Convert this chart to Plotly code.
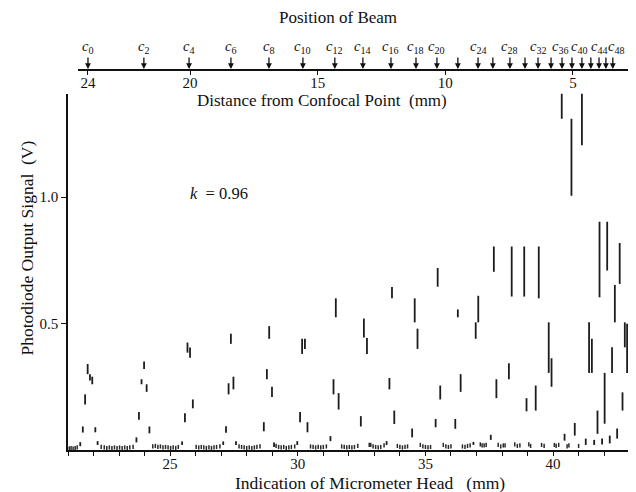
import plotly.graph_objects as go

# ---- data: vertical range marks (micrometer reading, low V, high V)
peak_x = [21.48, 21.58, 21.67, 21.77, 21.86, 21.95, 22.07, 22.16,
          23.68, 23.78, 23.88, 23.98, 24.08, 24.19,
          25.47, 25.58, 25.68, 25.78, 25.89,
          27.08, 27.19, 27.29, 27.38, 27.48, 27.58,
          28.67, 28.79, 28.88, 28.99, 29.07,
          29.98, 30.09, 30.17, 30.28, 30.38,
          31.28, 31.40, 31.49, 31.60,
          32.47, 32.59, 32.71,
          33.48, 33.59, 33.69, 33.78,
          34.48, 34.58, 34.69,
          35.40, 35.48, 35.58,
          36.17, 36.27, 36.38,
          36.88, 36.97, 37.07,
          37.56, 37.68, 37.78,
          38.27, 38.38,
          38.87, 38.96,
          39.32, 39.44, 39.83, 39.94,
          40.34, 40.45, 40.72, 40.85, 41.13, 41.28,
          41.41, 41.52, 41.61, 41.74, 41.82, 41.92, 42.02, 42.12, 42.22,
          42.31, 42.42, 42.51, 42.61, 42.72, 42.81, 42.90, 43.03]
peak_lo = [0.015, 0.069, 0.18, 0.30, 0.275, 0.26, 0.07, 0.02,
           0.03, 0.12, 0.26, 0.32, 0.23, 0.066,
           0.02, 0.11, 0.385, 0.365, 0.165,
           0.02, 0.068, 0.22, 0.42, 0.24, 0.02,
           0.074, 0.28, 0.44, 0.21, 0.012,
           0.02, 0.11, 0.38, 0.40, 0.07,
           0.035, 0.22, 0.525, 0.16,
           0.093, 0.445, 0.38,
           0.02, 0.24, 0.60, 0.103,
           0.05, 0.505, 0.40,
           0.09, 0.646, 0.20,
           0.084, 0.525, 0.23,
           0.02, 0.44, 0.505,
           0.04, 0.705, 0.205,
           0.28, 0.607,
           0.607, 0.153,
           0.156, 0.60, 0.305, 0.25,
           1.31, 0.037, 1.006, 0.057, 1.206, 0.02,
           0.305, 0.305, 0.02, 0.064, 0.604, 0.022, 0.104, 0.71, 0.026,
           0.305, 0.505, 0.045, 0.657, 0.156, 0.406, 0.305, 0.205]
peak_hi = [0.031, 0.093, 0.22, 0.34, 0.30, 0.29, 0.09, 0.035,
           0.05, 0.15, 0.28, 0.35, 0.26, 0.093,
           0.034, 0.145, 0.425, 0.405, 0.20,
           0.034, 0.094, 0.264, 0.46, 0.29, 0.035,
           0.11, 0.32, 0.49, 0.25, 0.03,
           0.035, 0.15, 0.44, 0.44, 0.11,
           0.055, 0.28, 0.60, 0.225,
           0.134, 0.52, 0.443,
           0.035, 0.285, 0.645, 0.156,
           0.085, 0.60, 0.48,
           0.123, 0.72, 0.255,
           0.123, 0.556, 0.30,
           0.032, 0.505, 0.61,
           0.06, 0.805, 0.28,
           0.343, 0.805,
           0.805, 0.205,
           0.255, 0.805, 0.505, 0.363,
           1.41, 0.064, 1.31, 0.107, 1.41, 0.045,
           0.505, 0.44, 0.04, 0.156, 0.903, 0.045, 0.305, 0.903, 0.057,
           0.406, 0.653, 0.085, 0.819, 0.228, 0.505, 0.499, 0.406]

# ---- data: baseline readings between the peaks (micrometer reading, V)
base_x = [21.05, 21.12, 21.20, 21.28, 21.36,
          22.30, 22.42, 22.52, 22.62, 22.72, 22.82, 22.92, 23.02, 23.12, 23.22, 23.32, 23.42, 23.55,
          24.32, 24.42, 24.52, 24.62, 24.72, 24.82, 24.92, 25.02, 25.12, 25.22, 25.32,
          26.02, 26.12, 26.22, 26.32, 26.42, 26.52, 26.62, 26.72, 26.82, 26.95,
          27.70, 27.80, 27.90, 28.00, 28.10, 28.20, 28.30, 28.40, 28.52,
          29.15, 29.25, 29.35, 29.45, 29.55, 29.65, 29.75, 29.88,
          30.50, 30.60, 30.70, 30.80, 30.90, 31.00, 31.12,
          31.72, 31.82, 31.92, 32.02, 32.12, 32.22, 32.35,
          32.80, 32.86, 32.95, 33.05, 33.15, 33.25, 33.38,
          33.90, 34.00, 34.10, 34.20, 34.30,
          34.80, 34.90, 35.00, 35.10, 35.20,
          35.70, 35.80, 35.90, 36.00,
          36.45, 36.55, 36.65, 36.75,
          37.15, 37.22, 37.30, 37.38,
          37.85, 37.95, 38.05, 38.12,
          38.50, 38.60, 38.70,
          39.05, 39.12,
          39.55, 39.65, 40.05, 40.12, 40.22, 40.55, 40.62, 41.00]
base_v = [0.006, 0.008, 0.006, 0.008, 0.010,
          0.012, 0.010, 0.008, 0.010, 0.008, 0.010, 0.008, 0.010, 0.008, 0.010, 0.008, 0.010, 0.012,
          0.014, 0.016, 0.012, 0.014, 0.010, 0.012, 0.010, 0.008, 0.010, 0.008, 0.012,
          0.012, 0.010, 0.012, 0.010, 0.008, 0.010, 0.008, 0.010, 0.012, 0.014,
          0.014, 0.012, 0.010, 0.008, 0.010, 0.008, 0.010, 0.012, 0.014,
          0.016, 0.012, 0.010, 0.012, 0.008, 0.010, 0.012, 0.014,
          0.014, 0.012, 0.010, 0.012, 0.010, 0.012, 0.014,
          0.014, 0.012, 0.010, 0.012, 0.010, 0.012, 0.016,
          0.020, 0.020, 0.014, 0.012, 0.010, 0.012, 0.018,
          0.016, 0.012, 0.010, 0.012, 0.014,
          0.020, 0.014, 0.012, 0.010, 0.012,
          0.020, 0.014, 0.012, 0.014,
          0.014, 0.012, 0.016, 0.018,
          0.022, 0.018, 0.018, 0.020,
          0.020, 0.014, 0.018, 0.018,
          0.022, 0.016, 0.018,
          0.022, 0.016,
          0.020, 0.016, 0.020, 0.016, 0.020, 0.014, 0.018, 0.016]

# ---- data: beam positions (distance from confocal point, mm)
beam_d = [24.0, 21.81, 20.04, 18.40, 16.91, 15.58, 14.33, 13.23, 12.13, 11.15,
          10.33, 9.51, 8.72, 8.14, 7.47, 6.88, 6.37, 5.86, 5.43, 5.04,
          4.65, 4.30, 3.98, 3.71, 3.44]
beam_label = ["0", "2", "4", "6", "8", "10", "12", "14", "16", "18",
              "20", "", "24", "", "28", "", "32", "", "36", "",
              "40", "", "44", "", "48"]

x_ticks = [25, 30, 35, 40]
y_ticks = [0.5, 1.0]
y_ticktext = ["0.5", "1.0"]
top_ticks = [24, 20, 15, 10, 5]
k_text = "0.96"

FONT = "Liberation Serif"
INK = "#111111"

# small horizontal nudges (px) for the crowded labels near the confocal point
LABEL_NUDGE = {"36": -2, "40": -2, "44": 0, "48": 4}

seg_x, seg_y = [], []
for xv, lo, hi in zip(peak_x, peak_lo, peak_hi):
    seg_x += [xv, xv, None]
    seg_y += [lo, hi, None]

fig = go.Figure()
fig.add_trace(go.Scatter(x=seg_x, y=seg_y, mode="lines",
                         line=dict(color="#1c1c1c", width=1.8),
                         hoverinfo="skip", showlegend=False))
fig.add_trace(go.Scatter(x=base_x, y=base_v, mode="markers",
                         marker=dict(symbol="line-ns", size=3,
                                     line=dict(width=1.5, color="#2a2a2a")),
                         hoverinfo="skip", showlegend=False))
# invisible trace carrying the top (distance) axis
fig.add_trace(go.Scatter(x=[top_ticks[0]], y=[None], xaxis="x2", yaxis="y",
                         mode="markers", showlegend=False, hoverinfo="skip"))

axis_font = dict(family=FONT, size=15, color=INK)

fig.update_layout(
    width=628, height=484,
    margin=dict(l=60, r=2, t=62, b=42),
    paper_bgcolor="white", plot_bgcolor="rgba(0,0,0,0)",
    font=dict(family=FONT, color=INK),
    xaxis=dict(range=[21, 43.17], domain=[0, 1], automargin=False,
               tickvals=x_ticks, ticks="outside", ticklen=4, tickwidth=1.2,
               ticklabelstandoff=-5,
               tickcolor=INK, showline=True, linecolor=INK, linewidth=1.5,
               showgrid=False, zeroline=False, tickfont=axis_font,
               minor=dict(dtick=1, tick0=0, ticks="outside", ticklen=4,
                          tickwidth=1.2, tickcolor=INK, showgrid=False)),
    yaxis=dict(range=[0, 1.41], domain=[0, 0.938], automargin=False,
               tickvals=y_ticks, ticktext=y_ticktext, ticks="outside",
               ticklen=5, tickwidth=1.2, tickcolor=INK, showline=True,
               linecolor=INK, linewidth=1.5, showgrid=False, zeroline=False,
               tickfont=axis_font),
    xaxis2=dict(range=[24.39, 2.61], domain=[0.0177, 1], anchor="free",
                position=1, side="top", tickvals=top_ticks, automargin=False,
                ticks="inside", ticklen=4, tickwidth=1.2, tickcolor=INK,
                ticklabelposition="inside", ticklabelstandoff=3,
                showline=True, linecolor=INK,
                linewidth=1.5, showgrid=False, zeroline=False,
                tickfont=axis_font),
)

ann = []
# arrows marking beam positions
for d, lab in zip(beam_d, beam_label):
    ann.append(dict(x=d, xref="x2", y=1, yref="paper", ax=0, ay=-14,
                    axref="pixel", ayref="pixel", text="", showarrow=True,
                    arrowhead=2, arrowsize=0.9, arrowwidth=1.3,
                    arrowcolor=INK, standoff=1))
    if lab:
        ann.append(dict(x=d, xref="x2", y=1, yref="paper", yshift=23,
                        xshift=LABEL_NUDGE.get(lab, 0),
                        text="<i>c</i><sub>%s</sub>" % lab, showarrow=False,
                        xanchor="center", yanchor="middle",
                        font=dict(family=FONT, size=14.5, color=INK)))

ann += [
    dict(text="Position of Beam", x=0.477, y=1.137, xref="paper", yref="paper",
         showarrow=False, xanchor="center", yanchor="middle",
         font=dict(family=FONT, size=17, color=INK)),
    dict(text="Distance from Confocal Point\u00a0\u00a0(mm)", x=0.448, y=0.921,
         xref="paper", yref="paper", showarrow=False, xanchor="center",
         yanchor="middle", font=dict(family=FONT, size=17, color=INK)),
    dict(text="Indication of Micrometer Head\u00a0\u00a0\u00a0(mm)", x=0.534,
         y=-0.088, xref="paper", yref="paper", showarrow=False,
         xanchor="center", yanchor="middle",
         font=dict(family=FONT, size=17.5, color=INK)),
    dict(text="Photodiode Output Signal\u00a0\u00a0(V)", x=-0.073, y=0.532,
         xref="paper", yref="paper", showarrow=False, textangle=-90,
         xanchor="center", yanchor="middle",
         font=dict(family=FONT, size=17.5, color=INK)),
    dict(text="<i>k</i>\u00a0\u00a0= " + k_text, x=25.7, y=1.015, xref="x",
         yref="y", showarrow=False, xanchor="left", yanchor="middle",
         font=dict(family=FONT, size=16.5, color=INK)),
]
fig.update_layout(annotations=ann)

fig.write_html("out.html")
